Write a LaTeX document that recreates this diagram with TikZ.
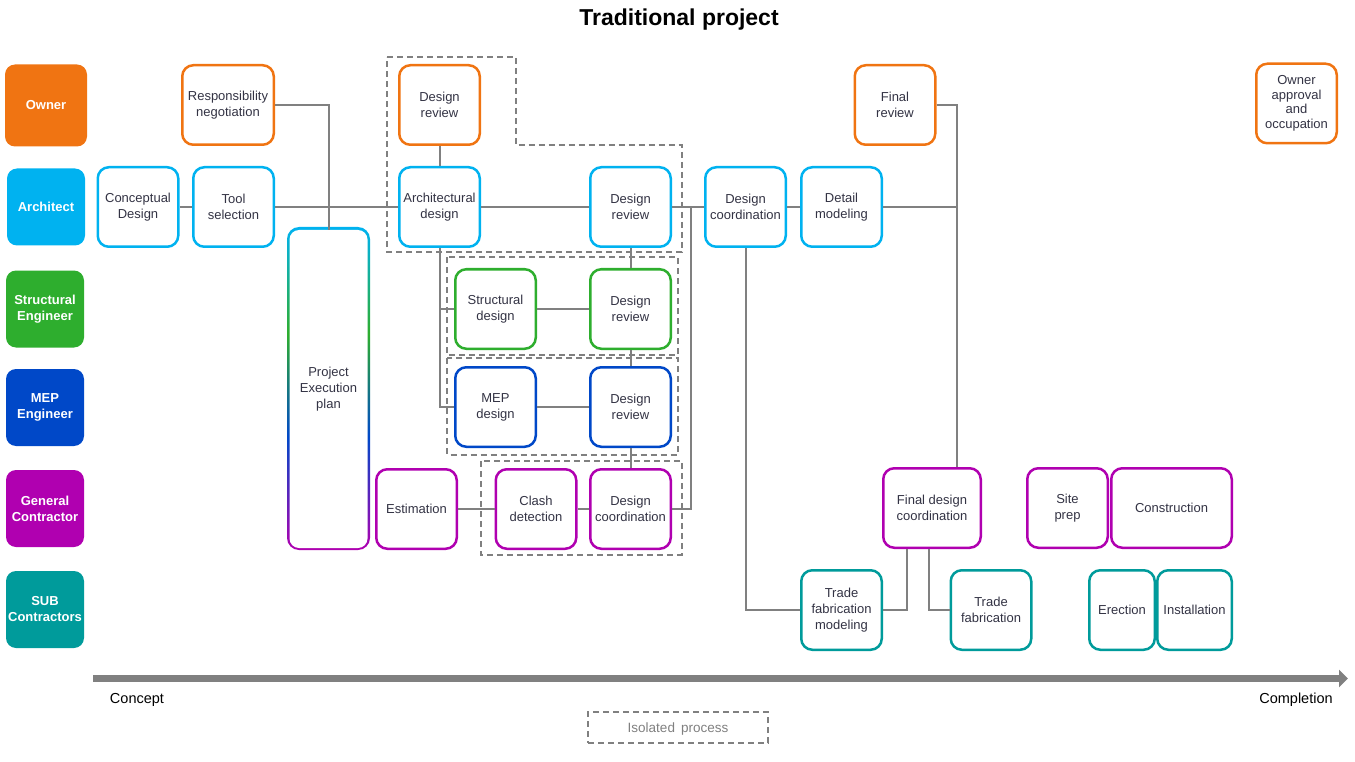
\documentclass[tikz,border=0pt]{standalone}
\usepackage{fontspec}
\setmainfont{Liberation Sans}
\usetikzlibrary{arrows.meta}
\definecolor{cown}{HTML}{F07412}
\definecolor{carch}{HTML}{00B2F0}
\definecolor{cstr}{HTML}{2EAE2E}
\definecolor{cmep}{HTML}{0048C8}
\definecolor{cgc}{HTML}{B000B0}
\definecolor{csub}{HTML}{009B9B}
\definecolor{txt}{HTML}{333344}
\definecolor{conn}{HTML}{808080}
\pgfdeclareverticalshading{pepshade}{100bp}{color(0bp)=(cgc); color(25bp)=(cgc); color(42.5bp)=(cmep); color(58.5bp)=(cstr); color(75bp)=(carch); color(100bp)=(carch)}
\begin{document}
\begin{tikzpicture}[x=1pt,y=-1pt,
  box/.style={draw, rounded corners=11, line width=2.5, fill=white, text=txt, align=center,
    font=\fontsize{13}{16}\selectfont, inner sep=0, minimum width=80.5, minimum height=79.5},
  lane/.style={rounded corners=10, text=white, align=center, font=\fontsize{13}{16}\selectfont\bfseries,
    inner sep=0, minimum width=78, minimum height=77},
  link/.style={draw=conn, line width=2},
  iso/.style={draw=conn, line width=2, dash pattern=on 6pt off 4pt}]
\useasboundingbox (0,0) rectangle (1355,762);

% title
\node[font=\fontsize{23}{26}\selectfont\bfseries] (title) at (679,20) {Traditional project};

% lanes
\node[lane, fill=cown, minimum width=82, minimum height=82] (lown) at (46,105.5) {Owner};
\node[lane, fill=carch] (larch) at (46,207) {Architect};
\node[lane, fill=cstr] (lstr) at (45,309) {Structural\\Engineer};
\node[lane, fill=cmep] (lmep) at (45,407.5) {MEP\\Engineer};
\node[lane, fill=cgc] (lgc) at (45,508.5) {General\\Contractor};
\node[lane, fill=csub] (lsub) at (45,609.5) {SUB\\Contractors};

\node[box, draw=cown, minimum width=91.5] (resp) at (228,105) {Responsibility\\negotiation};
\node[box, draw=carch] (concept) at (138,207) {Conceptual\\Design};
\node[box, draw=carch] (tool) at (233.5,207) {Tool\\selection};

% project execution plan with gradient border
\shade[shading=pepshade, rounded corners=12] (287,227) rectangle (370,550);
\node[fill=white, rounded corners=9.5, inner sep=0, minimum width=78, minimum height=318, align=center,
  text=txt, font=\fontsize{13}{16}\selectfont] (pep) at (328.5,389) {Project\\Execution\\plan};

\node[box, draw=cown] (odr) at (439.5,105) {Design\\review};
\node[box, draw=carch] (arch) at (439.5,207) {Architectural\\design};
\node[box, draw=carch] (adr) at (630.5,207) {Design\\review};
\node[box, draw=cstr] (str) at (495.5,309) {Structural\\design};
\node[box, draw=cstr] (sdr) at (630.5,309) {Design\\review};
\node[box, draw=cmep] (mep) at (495.5,407) {MEP\\design};
\node[box, draw=cmep] (mdr) at (630.5,407) {Design\\review};
\node[box, draw=cgc] (est) at (416.5,509) {Estimation};
\node[box, draw=cgc] (clash) at (536,509) {Clash\\detection};
\node[box, draw=cgc] (gdc) at (630.5,509) {Design\\coordination};
\node[box, draw=carch] (adc) at (745.5,207) {Design\\coordination};
\node[box, draw=carch] (det) at (841.5,207) {Detail\\modeling};
\node[box, draw=cown] (frev) at (895,105) {Final\\review};
\node[box, draw=cgc, minimum width=97.5] (fdc) at (932,508) {Final design\\coordination};
\node[box, draw=csub] (tfm) at (841.5,610) {Trade\\fabrication\\modeling};
\node[box, draw=csub] (tf) at (991,610) {Trade\\fabrication};
\node[box, draw=cgc] (site) at (1067.5,508) {Site\\prep};
\node[box, draw=cgc, minimum width=120.5] (constr) at (1171.5,508) {Construction};
\node[box, draw=csub, minimum width=65.5] (erect) at (1122,610) {Erection};
\node[box, draw=csub, minimum width=74.5] (inst) at (1194.5,610) {Installation};
\node[box, draw=cown, font=\fontsize{13}{14.5}\selectfont] (oapp) at (1296.5,103.5) {Owner\\approval\\and\\occupation};

% junction coordinates
\coordinate (j1) at (691,207);
\coordinate (j2) at (957,207);

% connectors
\draw[link] (concept.east) -- (tool.west);
\draw[link] (tool.east) -- (arch.west);
\draw[link] (resp.east) -| (pep.north);
\draw[link] (odr.south) -- (arch.north);
\draw[link] (arch.east) -- (adr.west);
\draw[link] (arch.south) |- (mep.west);
\draw[link] (arch.south |- str.west) -- (str.west);
\draw[link] (str.east) -- (sdr.west);
\draw[link] (mep.east) -- (mdr.west);
\draw[link] (adr.south) -- (sdr.north);
\draw[link] (sdr.south) -- (mdr.north);
\draw[link] (mdr.south) -- (gdc.north);
\draw[link] (est.east) -- (clash.west);
\draw[link] (clash.east) -- (gdc.west);
\draw[link] (adr.east) -- (adc.west);
\draw[link] (gdc.east) -| (j1);
\draw[link] (adc.east) -- (det.west);
\draw[link] (det.east) -- (j2);
\draw[link] (frev.east) -| (j2) -- (j2 |- fdc.north);
\draw[link] (adc.south) |- (tfm.west);
\draw[link] ([xshift=-25]fdc.south) |- (tfm.east);
\draw[link] ([xshift=-3]fdc.south) |- (tf.west);

% isolated process regions
\draw[iso] (387,57) -- (516,57) -- (516,145.5) -- (682,145.5) -- (682,252) -- (387,252) -- cycle;
\draw[iso] (447,257) rectangle (678,355);
\draw[iso] (447,358) rectangle (678,454.5);
\draw[iso] (480.5,461) rectangle (681.5,554.5);

% timeline
\coordinate (t0) at (93,678.5);
\coordinate (t1) at (1348,678.5);
\draw[draw=conn, line width=6.5, -{Triangle[length=9,width=17]}] (t0) -- (t1);
\node[font=\fontsize{14.5}{16}\selectfont] (concepttxt) at (137,699.5) {Concept};
\node[font=\fontsize{14.5}{16}\selectfont] (compltxt) at (1296,699.5) {Completion};

% legend
\node[iso, minimum width=180, minimum height=31, inner sep=0, text=conn, text height=9pt, text depth=0pt,
  font=\fontsize{13.5}{15}\selectfont] (legend) at (678,727.5) {Isolated\hspace{6pt}process};
\end{tikzpicture}
\end{document}
